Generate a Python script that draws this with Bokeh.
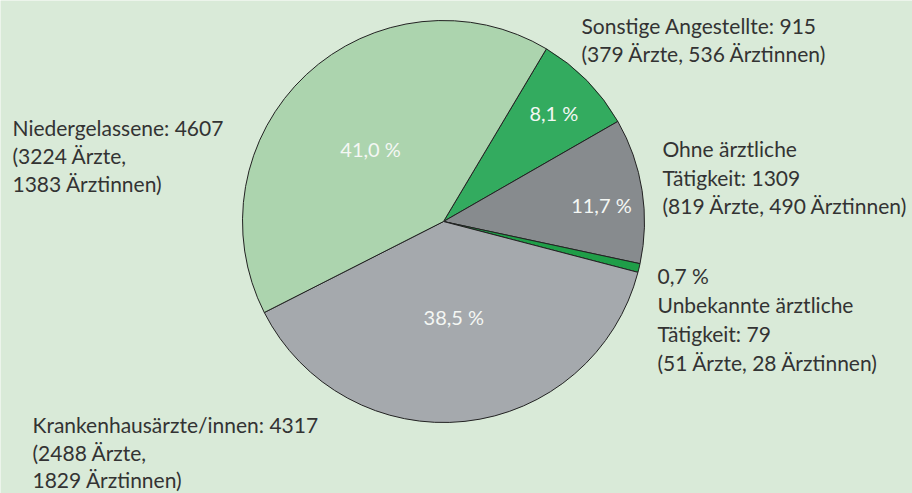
import math
from bokeh.plotting import figure
from bokeh.models import Range1d, ColumnDataSource
from bokeh.core.properties import value
from bokeh.embed import file_html
from bokeh.resources import INLINE

# ---- data (clockwise order, starting at the top boundary) ----
categories = ["Sonstige Angestellte", "Ohne ärztliche Tätigkeit",
              "Unbekannte ärztliche Tätigkeit", "Krankenhausärzte/innen",
              "Niedergelassene"]
counts = [915, 1309, 79, 4317, 4607]
aerzte = [379, 819, 51, 2488, 3224]
aerztinnen = [536, 490, 28, 1829, 1383]
pct_labels = ["8,1 %", "11,7 %", "0,7 %", "38,5 %", "41,0 %"]

# ---- styles ----
colors = ["#33ab5f", "#878b8e", "#1f9e48", "#a5a9ad", "#acd4ae"]
inside = [True, True, False, True, True]
label_r = [0.77, 0.79, 0.0, 0.48, 0.51]
label_da = [0.0, -0.05, 0.0, 0.0, 0.04]
BG = "#d9ead8"
TEXT = "#333333"
FONT = "Lato"

W, H = 912, 493
p = figure(width=W, height=H, output_backend="svg", toolbar_location=None,
           x_range=Range1d(0, W), y_range=Range1d(0, H),
           min_border=0, x_axis_type=None, y_axis_type=None)
p.grid.visible = False
p.outline_line_color = None
p.background_fill_color = BG
p.border_fill_color = BG

cx, cy, R = 443, H - 221, 201
start_top = math.radians(59.2)
total = sum(counts)

starts, ends, mids = [], [], []
cum = 0.0
for c in counts:
    a_end = start_top - 2 * math.pi * cum / total
    cum += c
    a_start = start_top - 2 * math.pi * cum / total
    starts.append(a_start)
    ends.append(a_end)
    mids.append((a_start + a_end) / 2)

src = ColumnDataSource(dict(start=starts, end=ends, color=colors))
p.wedge(x=cx, y=cy, radius=R, start_angle="start", end_angle="end",
        fill_color="color", line_color="#222222", line_width=1, source=src)

# inside percentage labels
lx, ly, lt = [], [], []
for i in range(len(counts)):
    if inside[i]:
        a = mids[i] + label_da[i]
        lx.append(cx + label_r[i] * R * math.cos(a))
        ly.append(cy + label_r[i] * R * math.sin(a))
        lt.append(pct_labels[i])
p.text(x=lx, y=ly, text=lt, text_color="#f4f7f4", text_font=value(FONT),
       text_font_size="20px", text_align="center", text_baseline="middle")

# outside labels
label_lines = {
    0: [f"{categories[0]}: {counts[0]}",
        f"({aerzte[0]} Ärzte, {aerztinnen[0]} Ärztinnen)"],
    1: ["Ohne ärztliche", f"Tätigkeit: {counts[1]}",
        f"({aerzte[1]} Ärzte, {aerztinnen[1]} Ärztinnen)"],
    2: [pct_labels[2], "Unbekannte ärztliche", f"Tätigkeit: {counts[2]}",
        f"({aerzte[2]} Ärzte, {aerztinnen[2]} Ärztinnen)"],
    3: [f"{categories[3]}: {counts[3]}", f"({aerzte[3]} Ärzte,",
        f"{aerztinnen[3]} Ärztinnen)"],
    4: [f"{categories[4]}: {counts[4]}", f"({aerzte[4]} Ärzte,",
        f"{aerztinnen[4]} Ärztinnen)"],
}
label_pos = {0: (581, 25, 28), 1: (662, 148, 28.5), 2: (657, 275, 29),
             3: (32, 424, 27.5), 4: (12, 127, 28)}

tx, ty, tt = [], [], []
for i, lines in label_lines.items():
    x0, y0, step = label_pos[i]
    for k, s in enumerate(lines):
        tx.append(x0)
        ty.append(H - (y0 + k * step))
        tt.append(s)
p.text(x=tx, y=ty, text=tt, text_color=TEXT, text_font=value(FONT),
       text_font_size="21px", text_align="left", text_baseline="alphabetic")

html = file_html(p, INLINE)
html = html.replace("<body>", f'<body style="margin:0;background-color:{BG};">', 1)
open("out.html", "w").write(html)
